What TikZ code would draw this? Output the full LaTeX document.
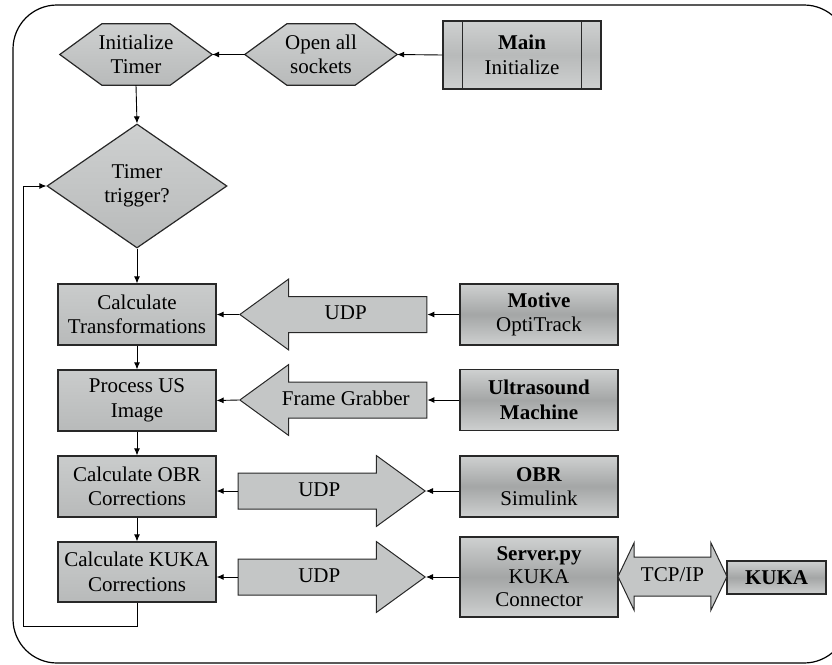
\documentclass[tikz,border=0pt]{standalone}
\usepackage{fontspec}
\setmainfont{Liberation Serif}
\usetikzlibrary{shapes.geometric,shapes.arrows,arrows.meta,backgrounds}

\definecolor{edgegray}{RGB}{40,40,40}
\definecolor{lighttop}{RGB}{206,208,208}
\definecolor{darkmid}{RGB}{164,166,166}
\definecolor{flatgray}{RGB}{184,186,186}
\definecolor{arrowgray}{RGB}{196,198,198}

\begin{document}
\begin{tikzpicture}[x=1pt, y=-1pt,
    every node/.style={font=\fontsize{21}{24.5}\selectfont, align=center, inner sep=0pt},
    procbox/.style={rectangle, draw=edgegray, line width=1.2pt, minimum width=158pt, minimum height=61pt,
        top color=lighttop!80!flatgray, bottom color=flatgray},
    devbox/.style={rectangle, draw=edgegray, line width=1.2pt, minimum width=158pt, minimum height=61pt,
        top color=lighttop, bottom color=lighttop, middle color=darkmid},
    hexbox/.style={rectangle, minimum width=152pt, minimum height=61pt},
    hexfill/.style={draw=edgegray, line width=1.2pt, top color=lighttop, bottom color=flatgray},
    decision/.style={diamond, draw=edgegray, line width=1.2pt, minimum width=180pt, minimum height=124pt,
        top color=lighttop, bottom color=flatgray},
    bigarrow/.style={single arrow, draw=edgegray, line width=1pt, fill=arrowgray, minimum height=187pt,
        single arrow head extend=17.5pt, single arrow tip angle=72, text height=14pt, text depth=4pt,
        inner ysep=8.5pt},
    conn/.style={line width=0.9pt, -{Latex[length=7pt,width=6pt]}}]

    \useasboundingbox (0,0) rectangle (832,664);
    \clip (0,0) rectangle (832,664);

    % outer frame
    \draw[line width=1.2pt, rounded corners=44pt] (13,5) rectangle (848,663);

    % start
    \node[devbox, minimum height=68pt, middle color=flatgray] (main) at (522,55) {\textbf{Main}\\Initialize};
    \draw[line width=1.2pt, edgegray] ([xshift=20pt]main.north west) -- ([xshift=20pt]main.south west);
    \draw[line width=1.2pt, edgegray] ([xshift=-20pt]main.north east) -- ([xshift=-20pt]main.south east);
    \node[hexbox] (sockets) at (321,54.5) {Open all\\sockets};
    \node[hexbox] (timer) at (136,54.5) {Initialize\\Timer};
    \begin{scope}[on background layer]
    \foreach \n in {timer,sockets}
        \draw[hexfill] (\n.west) -- ([xshift=42pt]\n.north west) -- ([xshift=-42pt]\n.north east)
            -- (\n.east) -- ([xshift=-42pt]\n.south east) -- ([xshift=42pt]\n.south west) -- cycle;
    \end{scope}
    \node[decision] (trig) at (137,186) {Timer\\trigger?};

    % main loop
    \node[procbox] (trans) at (137,314.5) {Calculate\\Transformations};
    \node[procbox] (usimg) at (137,400.5) {Process US\\Image};
    \node[procbox] (obrc) at (137,486.5) {Calculate OBR\\Corrections};
    \node[procbox, minimum height=60pt] (kukac) at (137,572) {Calculate KUKA\\Corrections};

    % outside programs
    \node[devbox] (motive) at (539,314.5) {\textbf{Motive}\\OptiTrack};
    \node[devbox] (usm) at (539,400) {\textbf{Ultrasound}\\\textbf{Machine}};
    \node[devbox] (obr) at (539,486.5) {\textbf{OBR}\\Simulink};
    \node[devbox, minimum height=80pt, font=\fontsize{21}{23}\selectfont] (server) at (539,577) {\textbf{Server.py}\\KUKA\\Connector};
    \node[devbox, minimum width=99pt, minimum height=33pt] (kuka) at (776.5,577.5) {\textbf{KUKA}};

    % links
    \node[bigarrow, shape border rotate=180, anchor=tip] (udpa) at (239,314.5) {UDP};
    \node[bigarrow, shape border rotate=180, anchor=tip] (grab) at (239,400) {Frame Grabber};
    \node[bigarrow, anchor=tip] (udpb) at (426,491) {UDP};
    \node[bigarrow, anchor=tip] (udpc) at (426,577) {UDP};
    \node[double arrow, draw=edgegray, line width=1pt, fill=arrowgray, minimum height=109pt,
        double arrow head extend=14.5pt, double arrow tip angle=129, text height=14pt, text depth=4pt,
        inner ysep=10pt] (tcp) at (672.5,576.5) {TCP/IP};

    \coordinate (loopbl) at (23,626);

    \draw[conn] (main.west) -- (sockets.east);
    \draw[conn] (sockets.west) -- (timer.east);
    \draw[conn] (timer.south) -- (trig.north);
    \draw[conn] (trig.south) -- (trans.north);
    \draw[conn] (trans.south) -- (usimg.north);
    \draw[conn] (usimg.south) -- (obrc.north);
    \draw[conn] (obrc.south) -- (kukac.north);
    \draw[conn] (kukac.south) |- (loopbl) |- (trig.west);

    \draw[conn] (motive.west) -- (udpa.tail);
    \draw[conn] (udpa.tip) -- (trans.east);
    \draw[conn] (usm.west) -- (grab.tail);
    \draw[conn] (grab.tip) -- (usimg.east);
    \draw[conn] (obr.west |- udpb.tip) -- (udpb.tip);
    \draw[conn] (udpb.tail) -- (obrc.east |- udpb.tail);
    \draw[conn] (server.west |- udpc.tip) -- (udpc.tip);
    \draw[conn] (udpc.tail) -- (kukac.east |- udpc.tail);
\end{tikzpicture}
\end{document}
